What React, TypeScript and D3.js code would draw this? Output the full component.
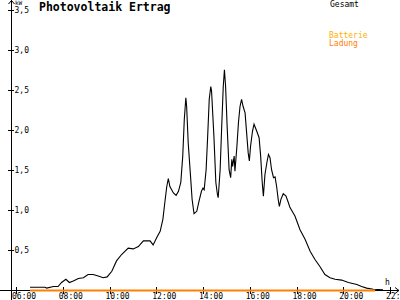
import React from "react";
import * as d3 from "d3";

const title = "Photovoltaik Ertrag";
const unitLabel = "kW";
const hourLabel = "h";
const legendItems = ["Gesamt", "Batterie", "Ladung"];
const legendColors = ["#000000", "#FFB000", "#FF8000"];

const yTicks = [0.5, 1.0, 1.5, 2.0, 2.5, 3.0, 3.5];
const xTicks = [6, 8, 10, 12, 14, 16, 18, 20, 22];
const xTickLabels = ["06:00", "08:00", "10:00", "12:00", "14:00", "16:00", "18:00", "20:00", "22:"];

const gesamtTimes = [
  "06:36", "07:14", "07:19", "07:36", "07:48", "07:57", "08:08", "08:17", "08:27", "08:40",
  "08:53", "09:05", "09:18", "09:31", "09:44", "09:54", "10:06", "10:18", "10:31", "10:48",
  "11:01", "11:14", "11:27", "11:44", "11:52", "12:01", "12:10", "12:17", "12:22", "12:27",
  "12:31", "12:35", "12:44", "12:51", "12:57", "13:03", "13:08", "13:12", "13:16", "13:18",
  "13:22", "13:28", "13:32", "13:37", "13:44", "13:50", "13:56", "14:00", "14:03", "14:08",
  "14:12", "14:16", "14:20", "14:22", "14:28", "14:33", "14:37", "14:39", "14:44", "14:48",
  "14:52", "14:55", "14:58", "15:02", "15:07", "15:11", "15:14", "15:16", "15:20", "15:22",
  "15:27", "15:31", "15:35", "15:39", "15:43", "15:48", "15:52", "15:56", "15:59", "16:02",
  "16:07", "16:11", "16:18", "16:24", "16:28", "16:32", "16:35", "16:39", "16:44", "16:48",
  "16:52", "16:56", "17:01", "17:05", "17:09", "17:13", "17:16", "17:20", "17:26", "17:33",
  "17:39", "17:43", "17:56", "18:09", "18:22", "18:35", "18:47", "19:00", "19:13", "19:26",
  "19:39", "19:56", "20:13", "20:35", "20:47", "21:00", "21:17", "21:42",
];
const gesamtValues = [
  0.04, 0.04, 0.03, 0.05, 0.05, 0.10, 0.14, 0.10, 0.12, 0.15,
  0.16, 0.20, 0.20, 0.18, 0.16, 0.17, 0.24, 0.37, 0.45, 0.53,
  0.52, 0.55, 0.62, 0.62, 0.57, 0.66, 0.74, 0.89, 1.10, 1.30,
  1.40, 1.30, 1.22, 1.19, 1.24, 1.35, 1.68, 2.14, 2.41, 2.30,
  1.85, 1.43, 1.14, 0.96, 0.99, 1.12, 1.24, 1.28, 1.26, 1.51,
  1.93, 2.39, 2.55, 2.49, 1.93, 1.35, 1.20, 1.16, 1.51, 2.05,
  2.55, 2.76, 2.55, 2.05, 1.51, 1.41, 1.64, 1.55, 1.68, 1.49,
  1.80, 2.10, 2.30, 2.39, 2.30, 2.22, 1.97, 1.72, 1.62, 1.80,
  1.99, 2.08, 1.99, 1.91, 1.68, 1.35, 1.18, 1.45, 1.60, 1.70,
  1.66, 1.51, 1.41, 1.42, 1.30, 1.14, 1.05, 1.14, 1.21, 1.18,
  1.10, 1.04, 0.93, 0.76, 0.64, 0.49, 0.39, 0.30, 0.20, 0.16,
  0.14, 0.13, 0.10, 0.075, 0.05, 0.03, 0.015, 0.01,
];
const ladungTimes = ["06:36", "21:22"];
const ladungValues = [0, 0];

const toHours = (s: string) => {
  const [h, m] = s.split(":").map(Number);
  return h + m / 60;
};

export default function App() {
  const W = 400;
  const H = 300;
  const x = d3.scaleLinear().domain([6, 22]).range([16, 390]);
  const y = d3.scaleLinear().domain([0, 3.5]).range([290.5, 10.5]);
  const font = "'DejaVu Sans Mono', monospace";

  const line = d3
    .line<[number, number]>()
    .x((d) => x(d[0]))
    .y((d) => y(d[1]));

  const gesamt: [number, number][] = gesamtTimes.map((t, i) => [toHours(t), gesamtValues[i]]);
  const ladung: [number, number][] = ladungTimes.map((t, i) => [toHours(t), ladungValues[i]]);

  const axisX = 11.5;
  const axisY = y(0);

  return (
    <svg
      width={W}
      height={H}
      style={{ position: "absolute", left: 0, top: 0, background: "#fff" }}
      fontFamily={font}
    >
      <rect x={0} y={0} width={W} height={H} fill="#fff" />
      {/* axes */}
      <line x1={axisX} x2={axisX} y1={0} y2={H} stroke="#000" strokeWidth={1} shapeRendering="crispEdges" />
      <line x1={0} x2={399} y1={axisY} y2={axisY} stroke="#000" strokeWidth={1} shapeRendering="crispEdges" />
      {/* arrows */}
      <path d={`M${axisX - 3},4 L${axisX},0.5 L${axisX + 3},4`} fill="none" stroke="#000" strokeWidth={1} />
      <path d={`M395,${axisY - 3} L399,${axisY} L395,${axisY + 3}`} fill="none" stroke="#000" strokeWidth={1} />

      {/* y ticks */}
      {yTicks.map((t) => (
        <g key={`y${t}`}>
          <line x1={8} x2={14} y1={y(t)} y2={y(t)} stroke="#000" shapeRendering="crispEdges" />
          <text x={14.5} y={y(t) + 2.8} fontSize={8} fill="#000">
            {t.toFixed(1).replace(".", ",")}
          </text>
        </g>
      ))}
      <text x={15} y={5} fontSize={6} fill="#000">
        {unitLabel}
      </text>

      {/* x ticks */}
      {xTicks.map((t, i) => (
        <g key={`x${t}`}>
          <line x1={Math.round(x(t)) + 0.5} x2={Math.round(x(t)) + 0.5} y1={287} y2={294} stroke="#000" shapeRendering="crispEdges" />
          <text x={x(t) - 4} y={299} fontSize={8} fill="#000">
            {xTickLabels[i]}
          </text>
        </g>
      ))}
      <text x={385} y={284.5} fontSize={8} fill="#000">
        {hourLabel}
      </text>

      {/* data */}
      <path d={line(gesamt) || ""} fill="none" stroke="#000" strokeWidth={1.1} />
      <path d={line(ladung) || ""} fill="none" stroke={legendColors[2]} strokeWidth={2} />

      {/* title */}
      <text x={39} y={10.7} fontSize={11.5} fontWeight="bold" fill="#000">
        {title}
      </text>

      {/* legend */}
      <text x={330} y={7.3} fontSize={8} fill={legendColors[0]}>
        {legendItems[0]}
      </text>
      <text x={329} y={38.3} fontSize={8} fill={legendColors[1]}>
        {legendItems[1]}
      </text>
      <text x={329} y={46.3} fontSize={8} fill={legendColors[2]}>
        {legendItems[2]}
      </text>
    </svg>
  );
}
